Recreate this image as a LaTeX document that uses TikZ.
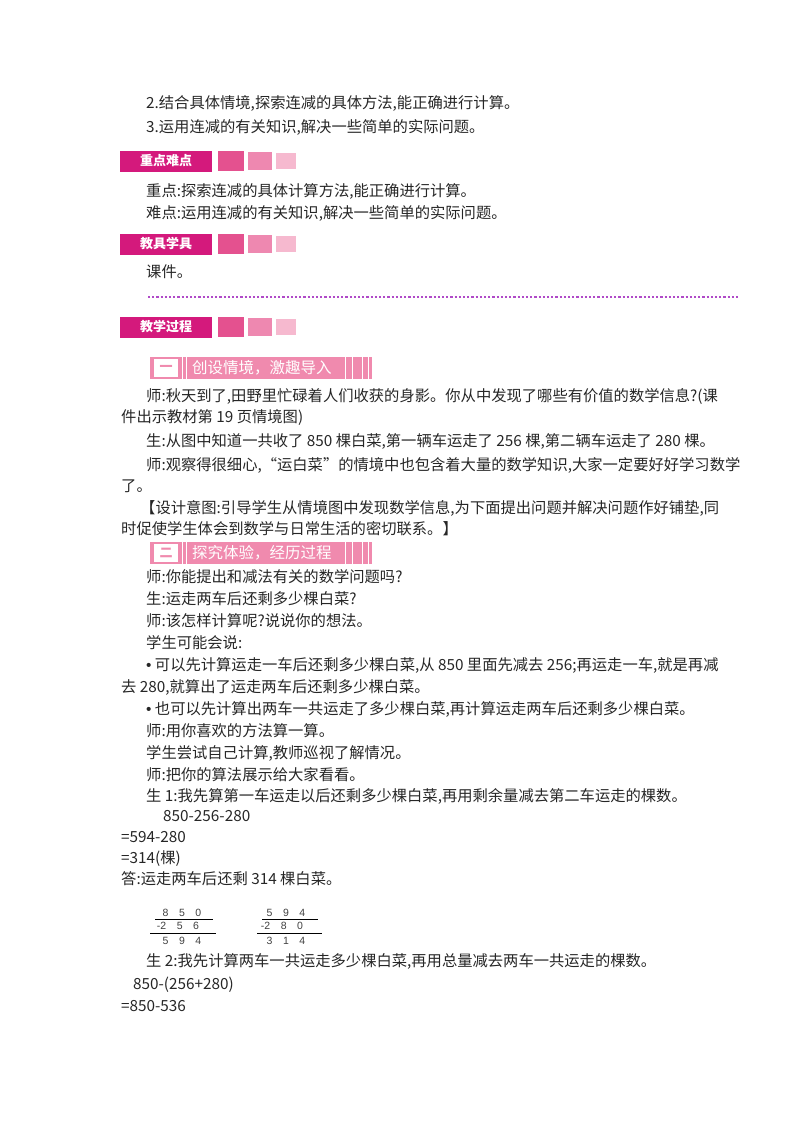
\documentclass[tikz,border=0pt]{standalone}
\usepackage{fontspec}
\setmainfont{Noto Sans CJK SC}
\newfontfamily\lat{Liberation Sans}
\definecolor{bdg}{HTML}{D4197C}
\definecolor{sq1}{HTML}{E4518F}
\definecolor{sq2}{HTML}{EE88B0}
\definecolor{sq3}{HTML}{F6B9CF}
\definecolor{ban}{HTML}{F08AAE}
\definecolor{dotc}{HTML}{B04AC8}
\begin{document}
\begin{tikzpicture}[x=1pt,y=1pt,
 tx/.style={anchor=base west,inner sep=0,font=\fontsize{15.3}{16}\selectfont,text=black!85},
 badge/.style={fill=bdg,text=white,font=\bfseries\fontsize{13}{15}\selectfont,minimum width=92,minimum height=21,inner sep=0},
 ban/.style={fill=ban,text=white,font=\fontsize{15.5}{17}\selectfont,inner sep=0,minimum height=22,anchor=west}]
\useasboundingbox (0,0) rectangle (800,-1132);
\newcommand{\bdgrow}[3]{%
 \node[badge] (#3) at (166,-#1) {#2};
 \fill[sq1] (218,-#1-10) rectangle (244,-#1+10);
 \fill[sq2] (248,-#1-9) rectangle (272,-#1+9);
 \fill[sq3] (276,-#1-8) rectangle (296,-#1+8);}
\newcommand{\banrow}[4]{%
 \fill[ban] (150,-#1-11) rectangle (372,-#1+11);
 \draw[white,line width=1.5,fill=white] (155,-#1-8) rectangle (177,-#1+8);
 \node[text=ban,font=\bfseries\fontsize{13}{15}\selectfont,inner sep=0] at (166,-#1) {#2};
 \foreach \xx in {182,186,345,352,362,368} \draw[white,line width=0.8] (\xx,-#1-11) -- (\xx,-#1+11);
 \node[ban,fill=none] (#4) at (192,-#1) {#3};}
\node[tx] (l1) at (146,-108) {2.结合具体情境,探索连减的具体方法,能正确进行计算。};
\node[tx] (l2) at (146,-132) {3.运用连减的有关知识,解决一些简单的实际问题。};
\bdgrow{161}{重点难点}{b1}
\node[tx] (l3) at (146,-196) {重点:探索连减的具体计算方法,能正确进行计算。};
\node[tx] (l4) at (146,-218) {难点:运用连减的有关知识,解决一些简单的实际问题。};
\bdgrow{244}{教具学具}{b2}
\node[tx] (l5) at (146,-277) {课件。};
\draw[dotc,line width=2.2,dotted] (148,-297) -- (740,-297);
\bdgrow{327}{教学过程}{b3}
\banrow{368}{一}{创设情境，激趣导入}{n1}
\node[tx] (a1) at (146,-401) {师:秋天到了,田野里忙碌着人们收获的身影。你从中发现了哪些有价值的数学信息?(课};
\node[tx] (a2) at (121,-422) {件出示教材第 19 页情境图)};
\node[tx] (a3) at (146,-446) {生:从图中知道一共收了 850 棵白菜,第一辆车运走了 256 棵,第二辆车运走了 280 棵。};
\node[tx] (a4) at (146,-470) {师:观察得很细心,“运白菜”的情境中也包含着大量的数学知识,大家一定要好好学习数学};
\node[tx] (a5) at (121,-491) {了。};
\node[tx] (a6) at (140,-513) {【设计意图:引导学生从情境图中发现数学信息,为下面提出问题并解决问题作好铺垫,同};
\node[tx] (a7) at (121,-534) {时促使学生体会到数学与日常生活的密切联系。】};
\banrow{553}{二}{探究体验，经历过程}{n2}
\node[tx] (c1) at (146,-582) {师:你能提出和减法有关的数学问题吗?};
\node[tx] (c2) at (146,-604) {生:运走两车后还剩多少棵白菜?};
\node[tx] (c3) at (146,-626) {师:该怎样计算呢?说说你的想法。};
\node[tx] (c4) at (146,-648) {学生可能会说:};
\node[tx] (c5) at (146,-670) {{\lat\textbullet} 可以先计算运走一车后还剩多少棵白菜,从 850 里面先减去 256;再运走一车,就是再减};
\node[tx] (c6) at (121,-692) {去 280,就算出了运走两车后还剩多少棵白菜。};
\node[tx] (c7) at (146,-714) {{\lat\textbullet} 也可以先计算出两车一共运走了多少棵白菜,再计算运走两车后还剩多少棵白菜。};
\node[tx] (c8) at (146,-736) {师:用你喜欢的方法算一算。};
\node[tx] (c9) at (146,-758) {学生尝试自己计算,教师巡视了解情况。};
\node[tx] (c10) at (146,-780) {师:把你的算法展示给大家看看。};
\node[tx] (c11) at (146,-801) {生 1:我先算第一车运走以后还剩多少棵白菜,再用剩余量减去第二车运走的棵数。};
\node[tx] (c12) at (163,-821) {850-256-280};
\node[tx] (c13) at (121,-842) {=594-280};
\node[tx] (c14) at (121,-863) {=314(棵)};
\node[tx] (c15) at (121,-884) {答:运走两车后还剩 314 棵白菜。};
\begin{scope}[every node/.style={font=\lat\fontsize{10.5}{11}\selectfont,inner sep=0,text=black!75}]
\node (v1) at (182,-913) {8\quad 5\quad 0};
\node (v2) at (178,-926) {-2\quad 5\quad 6};
\node (v3) at (182,-941) {5\quad 9\quad 4};
\draw[line width=0.9] (155,-919) -- (213,-919);
\draw[line width=0.9] (150,-933) -- (216,-933);
\node (w1) at (286,-913) {5\quad 9\quad 4};
\node (w2) at (282,-926) {-2\quad 8\quad 0};
\node (w3) at (286,-941) {3\quad 1\quad 4};
\draw[line width=0.9] (262,-919) -- (318,-919);
\draw[line width=0.9] (257,-933) -- (322,-933);
\end{scope}
\node[tx] (d1) at (146,-966) {生 2:我先计算两车一共运走多少棵白菜,再用总量减去两车一共运走的棵数。};
\node[tx] (d2) at (133,-989) {850-(256+280)};
\node[tx] (d3) at (121,-1011) {=850-536};
\end{tikzpicture}
\end{document}
